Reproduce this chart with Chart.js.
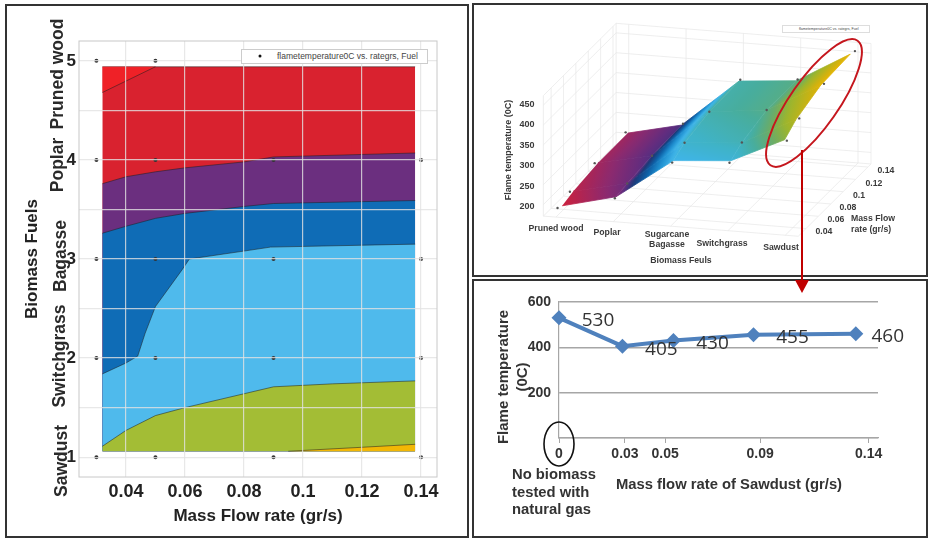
<!DOCTYPE html>
<html>
<head>
<meta charset="utf-8">
<title>Flame temperature of biomass fuels</title>
<script src="https://cdn.jsdelivr.net/npm/chart.js@4"></script>
<style>
  html, body { margin: 0; padding: 0; background: #fff; }
  body { position: relative; width: 933px; height: 540px; overflow: hidden; font-family: "Liberation Sans", sans-serif; }
  canvas { position: absolute; }
  .frame { position: absolute; border: 2px solid #333; box-sizing: border-box; }
  .txt { position: absolute; white-space: pre; text-align: center; transform: translate(-50%, -50%); line-height: 1.1; }
  .legendBox { position: absolute; background: #fff; border: 1px solid #ccc; box-sizing: border-box; color: #444; white-space: pre; }
  svg { position: absolute; left: 0; top: 0; }
</style>
</head>
<body>
<div class="frame" style="left:5px;top:4px;width:464px;height:534px"></div>
<div class="frame" style="left:472px;top:3px;width:456px;height:274px"></div>
<div class="frame" style="left:472px;top:279px;width:456px;height:259px"></div>

<canvas id="contourChart" width="470" height="540" style="left:0;top:0"></canvas>
<canvas id="surfaceChart" width="463" height="280" style="left:470px;top:0"></canvas>
<canvas id="sawdustChart" width="463" height="265" style="left:470px;top:275px"></canvas>

<svg width="933" height="540">
  <ellipse cx="814" cy="103" rx="76" ry="24" transform="rotate(-55 814 103)" fill="none" stroke="#c5161d" stroke-width="2"/>
  <line x1="802" y1="150" x2="802" y2="282" stroke="#c00000" stroke-width="2"/>
  <polygon points="795,280 809,280 802,293" fill="#c00000"/>
  <ellipse cx="559" cy="444" rx="15" ry="22" fill="none" stroke="#111" stroke-width="1.6"/>
</svg>

<script>
// ---- shared
const fuelNames = ["Pruned wood", "Poplar", "Sugarcane\nBagasse", "Switchgrass", "Sawdust"];
const massFlowGrid = [0.03, 0.05, 0.09, 0.14];

// flame temperature, one array per fuel
const tempPrunedWood = [190, 200, 210, 210];
const tempPoplar = [226, 232, 240, 243];
const tempBagasse = [327, 346, 362, 365];
const tempSwitchgrass = [338, 358, 378, 377];
const tempSawdust = [405, 430, 455, 460];
const tempByFuel = [tempPrunedWood, tempPoplar, tempBagasse, tempSwitchgrass, tempSawdust];

// ---- contour panel: band boundaries (x = mass flow, y = fuel number)
const fillFloor = 1.06;
const redTopX = [0.032, 0.138];
const redTopY = [4.94, 4.94];
const cornerX = [0.032, 0.05];
const cornerY = [4.68, 4.94];
const purpleTopX = [0.032, 0.04, 0.05, 0.06, 0.08, 0.09, 0.138];
const purpleTopY = [3.76, 3.83, 3.88, 3.92, 3.98, 4.03, 4.07];
const blueTopX = [0.032, 0.04, 0.05, 0.06, 0.08, 0.09, 0.138];
const blueTopY = [3.26, 3.33, 3.41, 3.46, 3.53, 3.56, 3.59];
const skyTopX = [0.032, 0.04, 0.044, 0.0465, 0.05, 0.059, 0.0615, 0.08, 0.089, 0.138];
const skyTopY = [1.84, 1.95, 2.02, 2.25, 2.52, 2.89, 3.0, 3.08, 3.12, 3.15];
const greenTopX = [0.032, 0.04, 0.05, 0.06, 0.08, 0.09, 0.11, 0.138];
const greenTopY = [1.11, 1.27, 1.42, 1.5, 1.64, 1.71, 1.74, 1.77];
const yellowTopX = [0.095, 0.12, 0.138];
const yellowTopY = [1.06, 1.1, 1.13];

const contourXTicks = [0.04, 0.06, 0.08, 0.1, 0.12, 0.14];
const contourYGrid = [1, 1.5, 2, 2.5, 3, 3.5, 4, 4.5, 5];
const contourDotX = [0.03, 0.05, 0.09, 0.14];
const contourDotY = [1, 2, 3, 4, 5];

// ---- line panel
const sawdustX = [0, 0.0297, 0.0536, 0.0911, 0.139];
const sawdustTemp = [530, 405, 430, 455, 460];
const sawdustTickPos = [0, 0.0309, 0.0497, 0.0942, 0.145];
const sawdustTickLabels = ["0", "0.03", "0.05", "0.09", "0.14"];

// ---- surface panel axes
const surfaceTempTicks = [200, 250, 300, 350, 400, 450];
const surfaceMassTicks = [0.04, 0.06, 0.08, 0.1, 0.12, 0.14];
const tempStops = [190, 205, 222, 238, 255, 280, 305, 330, 350, 370, 390, 410, 440, 460];
const tempColors = ["#d91f33", "#b5244f", "#8a2a70", "#5e2d80", "#1c3a78", "#0e5fa5", "#1f8fd0", "#3fb4e8", "#3fb3c8", "#48ad9c", "#6aac68", "#9bb52e", "#d2b20e", "#efb800"];

Chart.defaults.font.family = '"Liberation Sans", sans-serif';
Chart.defaults.animation = false;
Chart.defaults.responsive = false;
Chart.defaults.plugins.legend.display = false;
Chart.defaults.plugins.tooltip.enabled = false;

function pairs(xs, ys) {
  return xs.map((x, i) => ({ x, y: ys[i] }));
}

function addText(text, x, y, css) {
  const el = document.createElement("div");
  el.className = "txt";
  el.textContent = text;
  el.style.cssText = `left:${x}px;top:${y}px;${css}`;
  document.body.appendChild(el);
  return el;
}

// =========================
// Contour chart (left)
// =========================

function band(xs, ys, color, fill) {
  return {
    data: pairs(xs, ys),
    showLine: true,
    borderColor: "rgba(30,30,30,0.75)",
    borderWidth: 0.7,
    backgroundColor: color,
    fill: { value: fill },
    pointRadius: 0,
    tension: 0,
  };
}

const plotFrame = {
  id: "plotFrame",
  afterDraw(chart) {
    const { ctx, chartArea: a } = chart;
    ctx.save();
    ctx.strokeStyle = "#c8c8c8";
    ctx.lineWidth = 1;
    ctx.strokeRect(a.left, a.top, a.width, a.height);
    ctx.restore();
  },
};

new Chart(document.getElementById("contourChart"), {
  type: "scatter",
  data: {
    datasets: [
      {
        data: contourDotX.flatMap(x => contourDotY.map(y => ({ x, y }))),
        pointRadius: 2,
        pointBackgroundColor: "#333",
        pointBorderWidth: 0,
      },
      band(yellowTopX, yellowTopY, "#f2b705", fillFloor),
      band(greenTopX, greenTopY, "#a3bd35", fillFloor),
      band(skyTopX, skyTopY, "#4fbaec", fillFloor),
      band(blueTopX, blueTopY, "#0f6cb6", fillFloor),
      band(purpleTopX, purpleTopY, "#6b2f7f", fillFloor),
      band(cornerX, cornerY, "#ef2127", redTopY[0]),
      band(redTopX, redTopY, "#d9222f", fillFloor),
    ],
  },
  options: {
    layout: { padding: { left: 22, top: 41, right: 33, bottom: 13 } },
    scales: {
      x: {
        type: "linear",
        min: 0.0241,
        max: 0.1454,
        afterBuildTicks: s => { s.ticks = contourXTicks.map(value => ({ value })); },
        afterFit: s => { s.height = 50; },
        ticks: {
          color: "#222",
          font: { size: 18, weight: "bold" },
          padding: 4,
          maxRotation: 0,
          autoSkip: false,
          callback: v => String(v),
        },
        grid: { color: "rgba(226,226,226,0.8)", lineWidth: 1.2, z: 1, drawTicks: false },
        border: { display: false },
        title: { display: true, text: "Mass Flow rate (gr/s)", color: "#222", font: { size: 17, weight: "bold" }, padding: 0 },
      },
      y: {
        min: 0.8,
        max: 5.2,
        afterBuildTicks: s => { s.ticks = contourYGrid.map(value => ({ value })); },
        afterFit: s => { s.width = 57; },
        ticks: {
          color: "#222",
          font: { size: 17, weight: "bold" },
          padding: 3,
          autoSkip: false,
          callback: v => (Number.isInteger(v) ? String(v) : ""),
        },
        grid: { color: "rgba(226,226,226,0.8)", lineWidth: 1.2, z: 1, drawTicks: false },
        border: { display: false },
        title: { display: true, text: "Biomass Fuels", color: "#222", font: { size: 17, weight: "bold" }, padding: 0 },
      },
    },
  },
  plugins: [plotFrame],
});

const fuelTextCss = "font-weight:bold;font-size:17.5px;color:#2a2a2a;";
addText("Pruned wood", 58, 74, fuelTextCss + "transform:translate(-50%,-50%) rotate(-90deg)");
addText("Poplar", 58, 165, fuelTextCss + "transform:translate(-50%,-50%) rotate(-90deg)");
addText("Bagasse", 61, 256, fuelTextCss + "transform:translate(-50%,-50%) rotate(-90deg)");
addText("Switchgrass", 60, 356, fuelTextCss + "transform:translate(-50%,-50%) rotate(-90deg)");
addText("Sawdust", 62, 461, fuelTextCss + "transform:translate(-50%,-50%) rotate(-90deg)");

const bigLegend = document.createElement("div");
bigLegend.className = "legendBox";
bigLegend.style.cssText = "left:241px;top:49px;width:187px;height:15px;font-size:8.5px;line-height:13px;padding-left:35px;";
bigLegend.textContent = "flametemperature0C vs. rategrs, Fuel";
document.body.appendChild(bigLegend);
addText("", 260, 56, "width:3px;height:3px;border-radius:50%;background:#111;");

// =========================
// Surface chart (top right)
// =========================

// same numbers on both axes as canvas pixels, so a projected point lands 1:1
function project(fuel, mass, temp) {
  return {
    x: (255 + 175 * fuel + 1890 * (mass - 0.03)) / 3,
    y: (630 + 14 * fuel - 1900 * (mass - 0.03) - 1.228 * (temp - 190)) / 3,
  };
}

function tempAt(fuel, mass) {
  const i = Math.min(Math.floor(fuel), tempByFuel.length - 2);
  let j = 0;
  while (j < massFlowGrid.length - 2 && mass > massFlowGrid[j + 1]) j++;
  const t = fuel - i;
  const u = (mass - massFlowGrid[j]) / (massFlowGrid[j + 1] - massFlowGrid[j]);
  const a = tempByFuel[i][j] * (1 - u) + tempByFuel[i][j + 1] * u;
  const b = tempByFuel[i + 1][j] * (1 - u) + tempByFuel[i + 1][j + 1] * u;
  return a * (1 - t) + b * t;
}

function tempColor(t) {
  const hex = c => [1, 3, 5].map(k => parseInt(c.substr(k, 2), 16));
  if (t <= tempStops[0]) return tempColors[0];
  for (let k = 1; k < tempStops.length; k++) {
    if (t <= tempStops[k]) {
      const f = (t - tempStops[k - 1]) / (tempStops[k] - tempStops[k - 1]);
      const a = hex(tempColors[k - 1]);
      const b = hex(tempColors[k]);
      return `rgb(${a.map((v, n) => Math.round(v + (b[n] - v) * f)).join(",")})`;
    }
  }
  return tempColors[tempColors.length - 1];
}

const surfaceCanvas = document.getElementById("surfaceChart");
const surfaceCtx = surfaceCanvas.getContext("2d");

// one linear gradient per cell, running along the steepest temperature direction
function cellGradient(c) {
  const du = { x: (c[1].x - c[0].x + c[2].x - c[3].x) / 2, y: (c[1].y - c[0].y + c[2].y - c[3].y) / 2 };
  const dv = { x: (c[3].x - c[0].x + c[2].x - c[1].x) / 2, y: (c[3].y - c[0].y + c[2].y - c[1].y) / 2 };
  const dTu = (c[1].t - c[0].t + c[2].t - c[3].t) / 2;
  const dTv = (c[3].t - c[0].t + c[2].t - c[1].t) / 2;
  const det = du.x * dv.y - du.y * dv.x;
  const gx = (dTu * dv.y - dTv * du.y) / det;
  const gy = (dTv * du.x - dTu * dv.x) / det;
  const g2 = gx * gx + gy * gy;
  const cx = c.reduce((s, p) => s + p.x, 0) / 4;
  const cy = c.reduce((s, p) => s + p.y, 0) / 4;
  const ct = c.reduce((s, p) => s + p.t, 0) / 4;
  const lo = Math.min(...c.map(p => p.t)) - 8;
  const hi = Math.max(...c.map(p => p.t)) + 8;
  const grad = surfaceCtx.createLinearGradient(
    cx + gx * (lo - ct) / g2, cy + gy * (lo - ct) / g2,
    cx + gx * (hi - ct) / g2, cy + gy * (hi - ct) / g2
  );
  const steps = 24;
  for (let s = 0; s <= steps; s++) grad.addColorStop(s / steps, tempColor(lo + (hi - lo) * s / steps));
  return grad;
}

function surfaceCells() {
  const fuelEdges = [0.06, 1, 2, 3, 3.94];
  const massEdges = [0.032, 0.05, 0.09, 0.138];
  const cells = [];
  for (let j = massEdges.length - 2; j >= 0; j--) {
    for (let i = 0; i < fuelEdges.length - 1; i++) {
      const corners = [[i, j], [i + 1, j], [i + 1, j + 1], [i, j + 1]].map(([a, b]) => {
        const t = tempAt(fuelEdges[a], massEdges[b]);
        return { ...project(fuelEdges[a], massEdges[b], t), t };
      });
      const grad = cellGradient(corners);
      cells.push({
        data: corners.map(p => ({ x: p.x, y: p.y })),
        showLine: true,
        fill: "shape",
        backgroundColor: grad,
        borderColor: grad,
        borderWidth: 0.8,
        pointRadius: 0,
        tension: 0,
      });
    }
  }
  return cells;
}

function boxLine(a, b) {
  return {
    data: [project(...a), project(...b)],
    showLine: true,
    borderColor: "#e6e6e6",
    borderWidth: 0.7,
    pointRadius: 0,
    fill: false,
  };
}

function surfaceBox() {
  const [f0, f1] = [-0.22, 4.226];
  const [m0, m1] = [0.0275, 0.145];
  const [t0, t1] = [171, 474];
  const lines = [
    boxLine([f0, m0, t0], [f0, m0, t1]),
    boxLine([f0, m0, t1], [f0, m1, t1]),
    boxLine([f0, m1, t1], [f1, m1, t1]),
    boxLine([f0, m1, t0], [f0, m1, t1]),
    boxLine([f1, m1, t0], [f1, m1, t1]),
    boxLine([f0, m0, t0], [f1, m0, t0]),
    boxLine([f1, m0, t0], [f1, m1, t0]),
    boxLine([f1, m1, t0], [f0, m1, t0]),
    boxLine([f0, m1, t0], [f0, m0, t0]),
  ];
  surfaceTempTicks.forEach(t => {
    lines.push(boxLine([f0, m0, t], [f0, m1, t]));
    lines.push(boxLine([f0, m1, t], [f1, m1, t]));
  });
  surfaceMassTicks.forEach(m => {
    lines.push(boxLine([f0, m, t0], [f0, m, t1]));
    lines.push(boxLine([f0, m, t0], [f1, m, t0]));
  });
  fuelNames.forEach((n, f) => {
    lines.push(boxLine([f, m1, t0], [f, m1, t1]));
    lines.push(boxLine([f, m0, t0], [f, m1, t0]));
  });
  return lines;
}

new Chart(surfaceCanvas, {
  type: "scatter",
  data: {
    datasets: [
      {
        data: tempByFuel.flatMap((row, f) => row.map((t, j) => project(f, massFlowGrid[j], t))),
        pointRadius: 1.2,
        pointBackgroundColor: "#555",
        pointBorderWidth: 0,
      },
      // later datasets are painted first, so reverse: front cells last on canvas
      ...surfaceCells().reverse(),
      ...surfaceBox(),
    ],
  },
  options: {
    layout: { padding: 0 },
    scales: {
      x: { type: "linear", display: false, min: 0, max: 463 },
      y: { type: "linear", display: false, min: 0, max: 280, reverse: true },
    },
  },
});

const axisTextCss = "font-weight:bold;font-size:8.7px;color:#3a3a3a;";
const fuelLabelSpots = [[556, 229], [607, 233], [667, 240], [722, 244], [781, 248]];
fuelNames.forEach((name, k) => addText(name, fuelLabelSpots[k][0], fuelLabelSpots[k][1], axisTextCss));
addText("Biomass Feuls", 681, 261, axisTextCss);
surfaceTempTicks.forEach((t, k) => {
  addText(String(t), 527, 207 - k * 20.5, "font-weight:bold;font-size:9px;color:#3a3a3a;");
});
const massLabelSpots = [[824, 232], [836, 220], [848, 208], [859, 196], [874, 184], [886, 171]];
surfaceMassTicks.forEach((m, k) => addText(String(m), massLabelSpots[k][0], massLabelSpots[k][1], axisTextCss));
addText("Mass Flow\nrate (gr/s)", 873, 224, axisTextCss + "text-align:left;line-height:11px;");
addText("Flame temperature (0C)", 509, 150, "font-weight:bold;font-size:9px;color:#3a3a3a;transform:translate(-50%,-50%) rotate(-90deg);");

const tinyLegend = document.createElement("div");
tinyLegend.className = "legendBox";
tinyLegend.style.cssText = "left:782px;top:25px;width:88px;height:8px;font-size:3.6px;line-height:7px;padding-left:16px;border-color:#ddd;";
tinyLegend.textContent = "flametemperature0C vs. rategrs, Fuel";
document.body.appendChild(tinyLegend);

// =========================
// Sawdust line chart (bottom right)
// =========================

const valueLabels = {
  id: "valueLabels",
  afterDatasetsDraw(chart) {
    const { ctx } = chart;
    const points = chart.getDatasetMeta(0).data;
    ctx.save();
    ctx.font = '19px "Open Sans", sans-serif';
    ctx.fillStyle = "#333";
    ctx.textAlign = "center";
    ctx.textBaseline = "middle";
    points.forEach((p, k) => {
      const dx = k === points.length - 1 ? 32 : 39;
      ctx.fillText(String(sawdustTemp[k]), p.x + dx, p.y + 3);
    });
    ctx.restore();
  },
};

new Chart(document.getElementById("sawdustChart"), {
  type: "scatter",
  data: {
    datasets: [
      {
        data: pairs(sawdustX, sawdustTemp),
        showLine: true,
        clip: false,
        borderColor: "#4f81bd",
        backgroundColor: "#4f81bd",
        borderWidth: 4,
        pointStyle: "rectRot",
        pointRadius: 7.5,
        pointBorderWidth: 0,
        tension: 0,
      },
    ],
  },
  options: {
    layout: { padding: { left: 24, top: 27, right: 55, bottom: 0 } },
    scales: {
      x: {
        type: "linear",
        min: 0,
        max: 0.1494,
        afterBuildTicks: s => { s.ticks = sawdustTickPos.map(value => ({ value })); },
        afterFit: s => { s.height = 102; },
        ticks: {
          color: "#333",
          font: { size: 14, weight: "bold" },
          padding: 3,
          maxRotation: 0,
          autoSkip: false,
          callback: (v, i) => sawdustTickLabels[i],
        },
        grid: { drawOnChartArea: false, color: "#a6a6a6", tickLength: 5, lineWidth: 1 },
        border: { color: "#a6a6a6", width: 1.2 },
      },
      y: {
        min: 0,
        max: 600,
        afterFit: s => { s.width = 65; },
        ticks: {
          stepSize: 200,
          color: "#333",
          font: { size: 14, weight: "bold" },
          padding: 8,
          callback: v => (v === 0 ? "" : String(v)),
        },
        grid: { color: "#a6a6a6", lineWidth: 1.4, drawTicks: false },
        border: { color: "#a6a6a6", width: 1.2 },
      },
    },
  },
  plugins: [valueLabels],
});

addText("Flame temperature\n(0C)", 512, 377, "font-weight:bold;font-size:15px;color:#333;line-height:19px;transform:translate(-50%,-50%) rotate(-90deg);");
addText("No biomass\ntested with\nnatural gas", 512, 492, "font-weight:bold;font-size:14.8px;color:#333;text-align:left;line-height:17.6px;transform:translate(0,-50%);");
addText("Mass flow rate of Sawdust (gr/s)", 729, 484, "font-weight:bold;font-size:14.8px;color:#333;");
</script>
</body>
</html>
